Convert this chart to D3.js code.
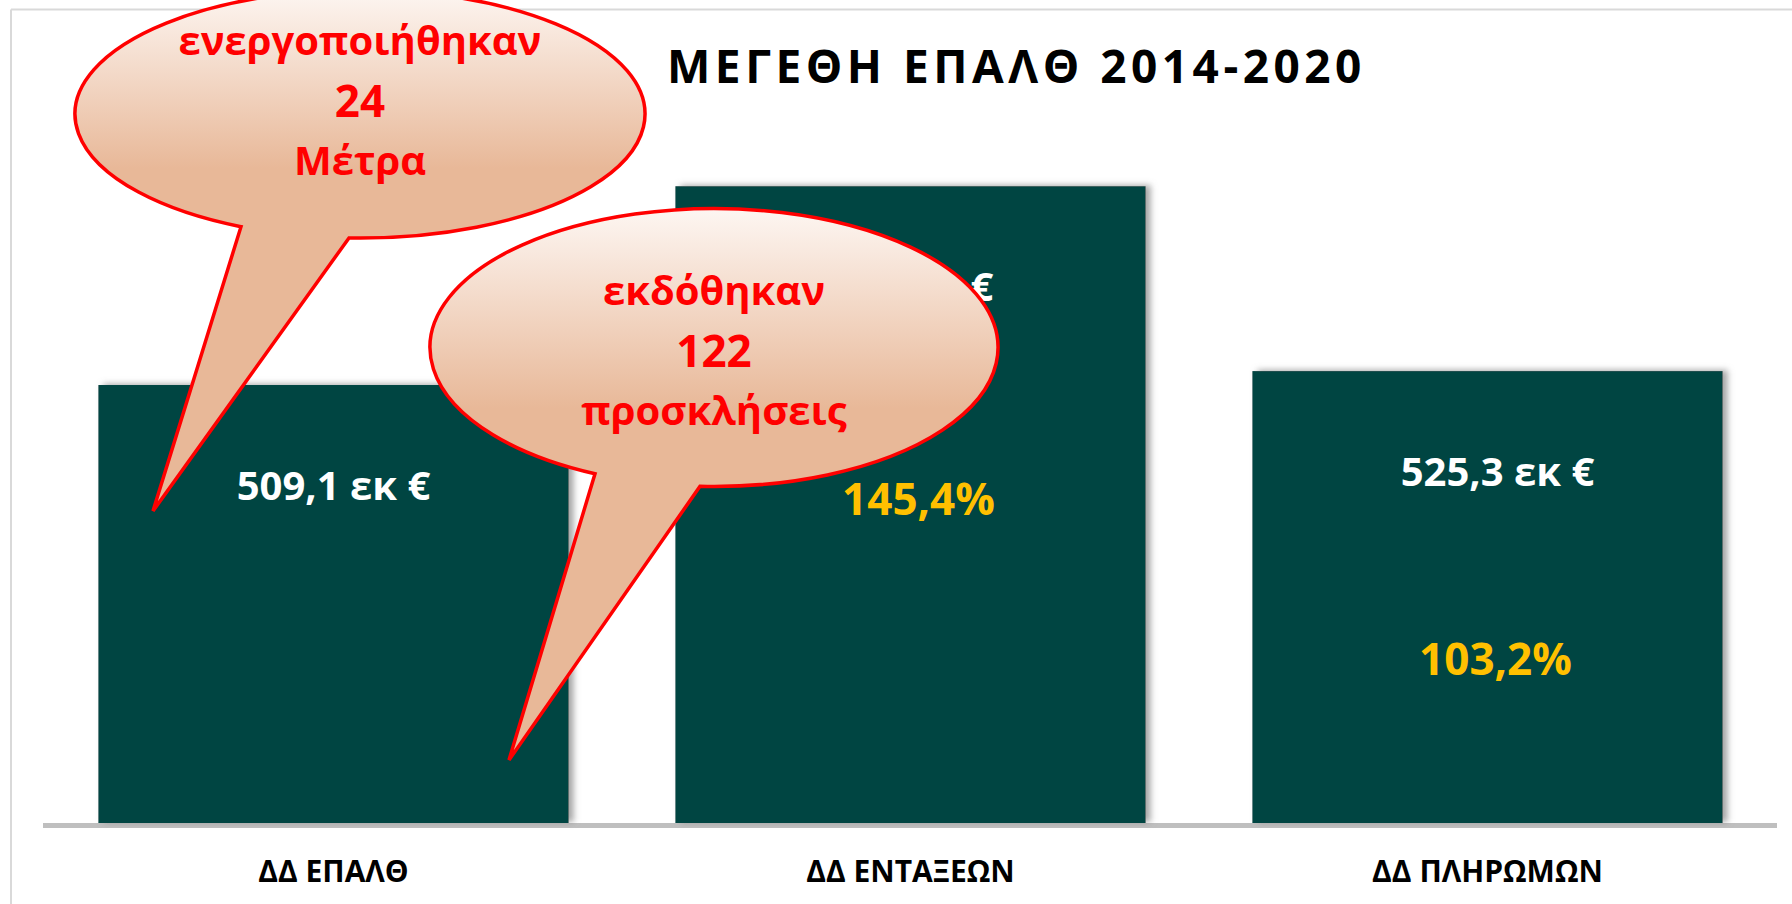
<!DOCTYPE html>
<html>
<head>
<meta charset="utf-8">
<script src="https://cdn.jsdelivr.net/npm/d3@7"></script>
<style>
  html, body { margin: 0; padding: 0; background: #fff; }
  svg { display: block; font-family: "Open Sans", "DejaVu Sans", sans-serif; font-weight: bold; }
</style>
</head>
<body>
<svg id="chart" width="1792" height="904"></svg>
<script>
var categories = ["ΔΔ ΕΠΑΛΘ", "ΔΔ ΕΝΤΑΞΕΩΝ", "ΔΔ ΠΛΗΡΩΜΩΝ"];
var values = [509.1, 740.2, 525.3];
var valueLabels = ["509,1 εκ €", "740,2 εκ €", "525,3 εκ €"];
var percentLabels = [null, "145,4%", "103,2%"];
var titleText = "ΜΕΓΕΘΗ ΕΠΑΛΘ 2014-2020";
var callout1Lines = ["ενεργοποιήθηκαν", "24", "Μέτρα"];
var callout2Lines = ["εκδόθηκαν", "122", "προσκλήσεις"];

var svg = d3.select("#chart");
var baseY = 823;

var x = d3.scaleBand()
  .domain(categories)
  .range([45, 1776])
  .paddingInner(0.185)
  .paddingOuter(0.0925);

var y = d3.scaleLinear()
  .domain([0, 800])
  .range([baseY, baseY - 800 * 0.8603]);

// one record per bar, built from the arrays above
var bars = categories.map(function(c, i) {
  return { cat: c, value: values[i], label: valueLabels[i], pct: percentLabels[i], i: i };
});

// small layout tweaks, as in the slide
var labelShift = [0, -14, 10];
var pctShare = [0, 0.484, 0.328];

var defs = svg.append("defs");

// soft shadow of the bars
var shadow = defs.append("filter").attr("id", "shadow")
  .attr("x", "-5%").attr("y", "-5%").attr("width", "115%").attr("height", "110%");
shadow.append("feDropShadow")
  .attr("dx", 5).attr("dy", -1).attr("stdDeviation", 3)
  .attr("flood-color", "#808080").attr("flood-opacity", 0.7);

// frame
svg.append("line").attr("x1", 11).attr("x2", 1792).attr("y1", 9.5).attr("y2", 9.5)
  .attr("stroke", "#d9d9d9").attr("stroke-width", 2);
svg.append("line").attr("x1", 11).attr("x2", 11).attr("y1", 9.5).attr("y2", 904)
  .attr("stroke", "#d9d9d9").attr("stroke-width", 2);

// title
svg.append("text")
  .attr("x", 667).attr("y", 83)
  .attr("font-size", 46)
  .attr("letter-spacing", 4.5)
  .attr("fill", "#000")
  .text(titleText);

// baseline
svg.append("line")
  .attr("x1", 43).attr("x2", 1777)
  .attr("y1", baseY + 2.5).attr("y2", baseY + 2.5)
  .attr("stroke", "#bfbfbf").attr("stroke-width", 5);

// bars
svg.append("g").selectAll("rect")
  .data(bars)
  .enter()
  .append("rect")
  .attr("x", function(d) { return x(d.cat); })
  .attr("y", function(d) { return y(d.value); })
  .attr("width", x.bandwidth())
  .attr("height", function(d) { return baseY - y(d.value); })
  .attr("fill", "#004442")
  .attr("filter", "url(#shadow)");

// value labels
svg.append("g").selectAll("text")
  .data(bars)
  .enter()
  .append("text")
  .attr("x", function(d) { return x(d.cat) + x.bandwidth() / 2 + labelShift[d.i]; })
  .attr("y", function(d) { return y(d.value) + 115; })
  .attr("text-anchor", "middle")
  .attr("font-size", 40)
  .attr("fill", "#fff")
  .text(function(d) { return d.label; });

// percent labels (placed at a share of the bar height)
svg.append("g").selectAll("text")
  .data(bars.filter(function(d) { return d.pct != null; }))
  .enter()
  .append("text")
  .attr("x", function(d) { return x(d.cat) + x.bandwidth() / 2 + 8; })
  .attr("y", function(d) { return y(d.value * pctShare[d.i]); })
  .attr("text-anchor", "middle")
  .attr("font-size", 44)
  .attr("fill", "#ffc000")
  .text(function(d) { return d.pct; });

// category labels
svg.append("g").selectAll("text")
  .data(categories)
  .enter()
  .append("text")
  .attr("x", function(d) { return x(d) + x.bandwidth() / 2; })
  .attr("y", 882)
  .attr("text-anchor", "middle")
  .attr("font-size", 30)
  .attr("fill", "#000")
  .text(function(d) { return d; });

// speech bubbles
function callout(id, c, tail, lines, lineY) {
  var grad = defs.append("linearGradient").attr("id", id)
    .attr("gradientUnits", "userSpaceOnUse")
    .attr("x1", 0).attr("x2", 0)
    .attr("y1", c.cy - c.ry).attr("y2", c.cy + c.ry);
  grad.append("stop").attr("offset", 0).attr("stop-color", "#fdf6f2");
  grad.append("stop").attr("offset", 0.72).attr("stop-color", "#e8b898");
  grad.append("stop").attr("offset", 1).attr("stop-color", "#e8b898");

  function onEllipse(px) {
    var dx = (px - c.cx) / c.rx;
    return [px, c.cy + c.ry * Math.sqrt(1 - dx * dx)];
  }
  var p1 = onEllipse(tail.left);
  var p2 = onEllipse(tail.right);
  var path = "M" + p2[0] + "," + p2[1] +
    " A" + c.rx + "," + c.ry + " 0 1 0 " + p1[0] + "," + p1[1] +
    " L" + tail.tip[0] + "," + tail.tip[1] + " Z";

  var g = svg.append("g");
  g.append("path")
    .attr("d", path)
    .attr("fill", "url(#" + id + ")")
    .attr("stroke", "#ff0000")
    .attr("stroke-width", 3.5)
    .attr("stroke-linejoin", "miter");

  g.selectAll("text")
    .data(lines)
    .enter()
    .append("text")
    .attr("x", c.cx)
    .attr("y", function(d, i) { return lineY[i]; })
    .attr("text-anchor", "middle")
    .attr("font-size", function(d, i) { return i == 1 ? 44 : 40; })
    .attr("fill", "#ff0000")
    .text(function(d) { return d; });
}

callout("grad1", { cx: 360, cy: 114, rx: 285, ry: 124 },
  { left: 241, right: 349, tip: [153, 511] },
  callout1Lines, [55, 117, 175]);

callout("grad2", { cx: 714, cy: 347.5, rx: 284, ry: 139 },
  { left: 595, right: 700, tip: [509, 760] },
  callout2Lines, [305, 367, 425]);
</script>
</body>
</html>
